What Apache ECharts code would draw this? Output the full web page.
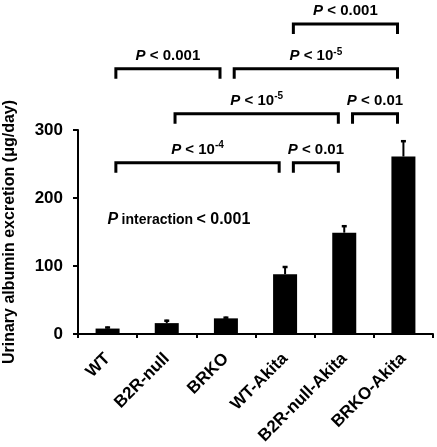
<!DOCTYPE html>
<html><head><meta charset="utf-8">
<script src="https://cdn.jsdelivr.net/npm/echarts@6/dist/echarts.min.js"></script>
<style>html,body{margin:0;padding:0;background:#fff}#c{width:437px;height:447px}</style>
</head><body><div id="c"></div>
<script>
var categories = ['WT', 'B2R-null', 'BRKO', 'WT-Akita', 'B2R-null-Akita', 'BRKO-Akita'];
var means = [8, 16, 23, 88, 149, 261];
var errors = [3, 5, 2.5, 12, 11, 24];
var yTicks = [0, 100, 200, 300];
// brackets: [fromIndex, toIndex, level (data units)]
var bracketPairs = [[0, 3, 252], [3, 4, 252], [1, 4, 324], [4, 5, 324], [0, 2, 390], [2, 5, 390], [3, 5, 456]];
var bracketLabels = ['P < 10-4', 'P < 0.01', 'P < 10-5', 'P < 0.01', 'P < 0.001', 'P < 10-5', 'P < 0.001'];
var interactionLabel = 'P interaction < 0.001';
var interactionAnchor = [0, 168];

var FONT = 'Liberation Sans, Arial, sans-serif';
function richLabel(s) {
  var m = s.match(/^P < 10(-\d+)$/);
  if (m) return '{p|P}{n| < 10}{s|' + m[1] + '}';
  return '{p|P}{n|' + s.slice(1) + '}';
}
function richInteraction(s) {
  var m = s.match(/^P (\S+) (.*)$/);
  return '{p2|P} {i|' + m[1] + '} {n2|' + m[2] + '}';
}
var rich = {
  p: {fontStyle: 'italic', fontWeight: 'bold', fontSize: 15, fontFamily: FONT, fill: '#000', lineHeight: 18},
  n: {fontWeight: 'bold', fontSize: 15, fontFamily: FONT, fill: '#000', lineHeight: 18},
  s: {fontWeight: 'bold', fontSize: 10, fontFamily: FONT, fill: '#000', lineHeight: 18, verticalAlign: 'top'},
  p2: {fontStyle: 'italic', fontWeight: 'bold', fontSize: 16, fontFamily: FONT, fill: '#000', lineHeight: 18},
  n2: {fontWeight: 'bold', fontSize: 16, fontFamily: FONT, fill: '#000', lineHeight: 18},
  i: {fontWeight: 'bold', fontSize: 14, fontFamily: FONT, fill: '#000', lineHeight: 18}
};

var chart = echarts.init(document.getElementById('c'), null, {renderer: 'canvas'});
chart.setOption({
  animation: false,
  backgroundColor: '#fff',
  grid: {left: 78, right: 4, top: 130, bottom: 113, outerBoundsMode: 'none'},
  xAxis: {
    type: 'category', data: categories,
    axisLine: {lineStyle: {color: '#000', width: 2}},
    axisTick: {show: true, length: 4, lineStyle: {color: '#000', width: 2}},
    axisLabel: {rotate: 45, interval: 0, color: '#000', fontSize: 17, fontWeight: 'bold', fontFamily: FONT, margin: 22}
  },
  yAxis: {
    type: 'value', min: yTicks[0], max: yTicks[yTicks.length - 1], interval: 100,
    name: 'Urinary albumin excretion (\u03bcg/day)', nameLocation: 'middle', nameGap: 60,
    nameTextStyle: {color: '#000', fontSize: 16, fontWeight: 'bold', fontFamily: FONT},
    axisLine: {show: true, lineStyle: {color: '#000', width: 2}},
    axisTick: {show: true, length: 5, lineStyle: {color: '#000', width: 2}},
    axisLabel: {color: '#000', fontSize: 17, fontWeight: 'bold', fontFamily: FONT, margin: 15},
    splitLine: {show: false}
  },
  series: [
    {type: 'bar', data: means, barWidth: 24, itemStyle: {color: '#000'}, z: 2},
    {
      type: 'custom', z: 3,
      data: means.map(function (m, i) { return [i, m, m + errors[i]]; }),
      renderItem: function (params, api) {
        var p0 = api.coord([api.value(0), api.value(1)]);
        var p1 = api.coord([api.value(0), api.value(2)]);
        return {type: 'group', children: [
          {type: 'line', shape: {x1: p0[0], y1: p0[1], x2: p1[0], y2: p1[1]}, style: {stroke: '#000', lineWidth: 2}},
          {type: 'line', shape: {x1: p1[0] - 2.5, y1: p1[1] + 1, x2: p1[0] + 2.5, y2: p1[1] + 1}, style: {stroke: '#000', lineWidth: 2.5}}
        ]};
      }
    },
    {
      type: 'custom', clip: false, z: 4,
      data: bracketPairs,
      renderItem: function (params, api) {
        var bw = api.size([1, 0])[0];
        var a = api.coord([api.value(0), api.value(2)]);
        var b = api.coord([api.value(1), api.value(2)]);
        var x1 = a[0] + 0.14 * bw, x2 = b[0] - 0.1 * bw, y = a[1];
        var leg = 10;
        return {type: 'group', children: [
          {type: 'polyline', shape: {points: [[x1, y + leg], [x1, y], [x2, y], [x2, y + leg]]}, style: {stroke: '#000', lineWidth: 3, fill: null}},
          {type: 'text', style: {text: richLabel(bracketLabels[params.dataIndex]), rich: rich, x: (x1 + x2) / 2, y: y - 13, align: 'center', verticalAlign: 'middle'}}
        ]};
      }
    },
    {
      type: 'custom', clip: false, z: 4,
      data: [interactionAnchor],
      renderItem: function (params, api) {
        var p = api.coord([api.value(0), api.value(1)]);
        return {type: 'text', style: {text: richInteraction(interactionLabel), rich: rich, x: p[0], y: p[1], align: 'left', verticalAlign: 'middle'}};
      }
    }
  ]
});
</script></body></html>
